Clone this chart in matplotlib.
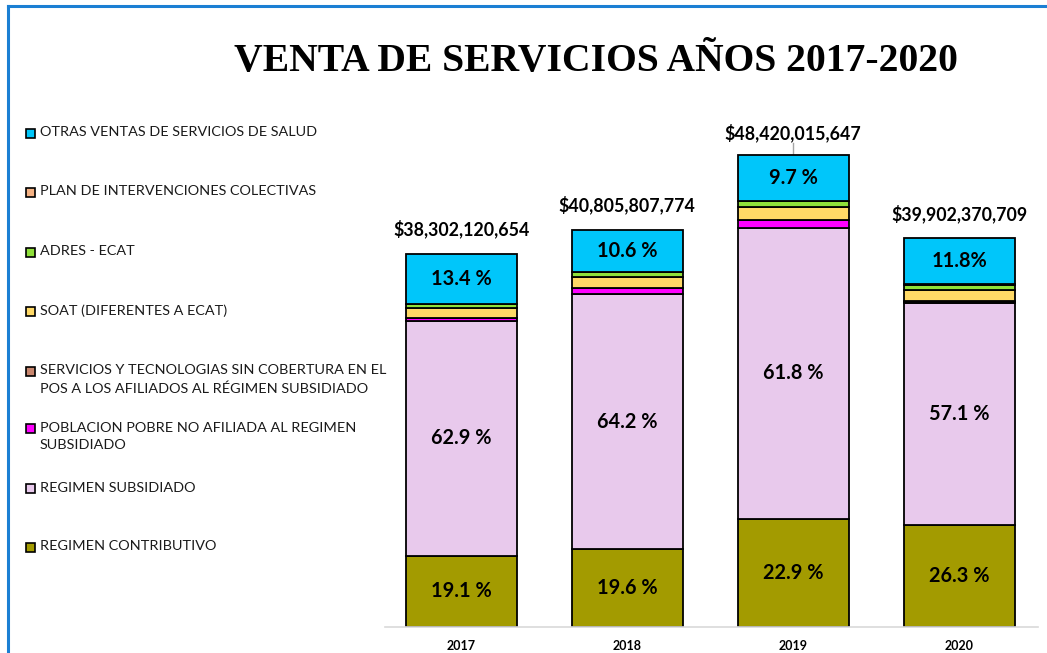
import matplotlib
matplotlib.use("Agg")
import matplotlib.pyplot as plt
from matplotlib.patches import Rectangle
from matplotlib.lines import Line2D

# ---- data ----
years = ["2017", "2018", "2019", "2020"]
totals = [38302120654, 40805807774, 48420015647, 39902370709]
total_labels = ["$38,302,120,654", "$40,805,807,774", "$48,420,015,647", "$39,902,370,709"]

series_names = [
    "REGIMEN CONTRIBUTIVO",
    "REGIMEN SUBSIDIADO",
    "POBLACION POBRE NO AFILIADA AL REGIMEN\nSUBSIDIADO",
    "SERVICIOS Y TECNOLOGIAS SIN COBERTURA EN EL\nPOS A LOS AFILIADOS AL RÉGIMEN SUBSIDIADO",
    "SOAT (DIFERENTES A ECAT)",
    "ADRES - ECAT",
    "PLAN DE INTERVENCIONES COLECTIVAS",
    "OTRAS VENTAS DE SERVICIOS DE SALUD",
]
# shares (%) per series, per year (small ones)
contributivo = [19.1, 19.6, 22.9, 26.3]
subsidiado = [62.9, 64.2, 61.8, 57.1]
pobre = [0.8, 1.5, 1.5, 0.3]
sin_cobertura = [0.05, 0.05, 0.05, 0.2]
soat = [2.6, 2.6, 2.9, 2.9]
adres = [1.1, 1.4, 1.1, 1.3]
plan = [0.05, 0.05, 0.05, 0.1]
otras = [13.4, 10.6, 9.7, 11.8]
shares = [contributivo, subsidiado, pobre, sin_cobertura, soat, adres, plan, otras]

pct_labels = {
    0: ["19.1 %", "19.6 %", "22.9 %", "26.3 %"],
    1: ["62.9 %", "64.2 %", "61.8 %", "57.1 %"],
    7: ["13.4 %", "10.6 %", "9.7 %", "11.8%"],
}

colors = ["#A39B00", "#E8C9EC", "#FF00FF", "#C8866E", "#FFD966", "#8FE03A", "#F4B183", "#00C6FA"]

# ---- figure ----
W, H = 1047, 653
fig = plt.figure(figsize=(W / 100, H / 100), dpi=100)
fig.patch.set_facecolor("white")

# blue frame (top and left)
fig.add_artist(Line2D([8 / W, 8 / W], [0, 1 - 6 / H], transform=fig.transFigure, color="#1B7FD3", lw=2.2))
fig.add_artist(Line2D([8 / W, 1], [1 - 6 / H, 1 - 6 / H], transform=fig.transFigure, color="#1B7FD3", lw=2.2))

px_per_b = 9.74
ymax = 55e9
ax_left, ax_right = 385, 1038
ax_bottom_px = 627
ax_h = 55 * px_per_b
ax = fig.add_axes([ax_left / W, (H - ax_bottom_px) / H, (ax_right - ax_left) / W, ax_h / H])
ax.set_xlim(-0.46, 3.475)
ax.set_ylim(0, ymax)
for s in ["top", "right", "left"]:
    ax.spines[s].set_visible(False)
ax.spines["bottom"].set_color("#D9D9D9")
ax.spines["bottom"].set_linewidth(1.2)
ax.set_yticks([])
ax.set_xticks(range(len(years)))
ax.set_xticklabels(years, fontsize=9, fontweight="bold", family="Lato")
ax.tick_params(axis="x", length=0, pad=9)

x = list(range(len(years)))
bottoms = [0.0] * len(years)
for i, sh in enumerate(shares):
    vals = [t * p / 100 for t, p in zip(totals, sh)]
    ax.bar(x, vals, bottom=bottoms, width=0.67, color=colors[i], edgecolor="black", linewidth=1.3, zorder=2)
    if i in pct_labels:
        for j in x:
            ax.text(j, bottoms[j] + vals[j] / 2, pct_labels[i][j], ha="center", va="center",
                    fontsize=14.3, fontweight="bold", family="Lato", color="black", zorder=3)
    bottoms = [b + v for b, v in zip(bottoms, vals)]

# total labels
for j in x:
    top = totals[j]
    if j == 2:
        ax.plot([j, j], [top, top + 1.25e9], color="#A6A6A6", lw=1, zorder=1)
        ax.text(j, top + 2.3e9, total_labels[j], ha="center", va="center",
                fontsize=12.8, fontweight="bold", family="Lato")
    else:
        ax.text(j, top + 2.55e9, total_labels[j], ha="center", va="center",
                fontsize=12.8, fontweight="bold", family="Lato")

# title
fig.text(596 / W, 1 - 62 / H, "VENTA DE SERVICIOS AÑOS 2017-2020", ha="center", va="center",
         fontsize=28.5, fontweight="bold", family="Liberation Serif")

# legend (manual)
legend_pos = [547, 488, 428, 371, 311, 252, 192, 133]
sq = 9
for i, name in enumerate(series_names):
    yc = legend_pos[i]
    fig.add_artist(Rectangle((26 / W, (H - yc - sq / 2) / H), sq / W, sq / H, transform=fig.transFigure,
                             facecolor=colors[i], edgecolor="black", lw=1.2))
    fig.text(40 / W, 1 - (yc - 6.5) / H, name, ha="left", va="top", fontsize=10.4, family="Lato",
             color="#1a1a1a", linespacing=1.55)

fig.savefig("out.png", dpi=100)
